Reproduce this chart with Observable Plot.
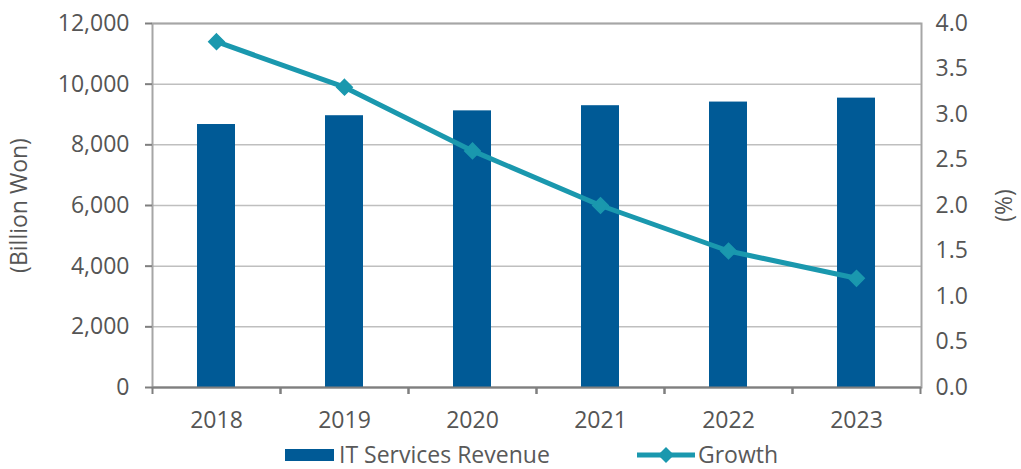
<!DOCTYPE html>
<html>
<head>
<meta charset="utf-8">
<script src="https://cdn.jsdelivr.net/npm/d3@7"></script>
<script src="https://cdn.jsdelivr.net/npm/@observablehq/plot@0.6"></script>
<style>
  html, body { margin: 0; padding: 0; background: #fff; overflow: hidden; }
  body { width: 1021px; height: 469px; font-family: "Open Sans", sans-serif; color: #595959; }
  #legend { position: relative; height: 29px; width: 1021px; }
  .item { position: absolute; top: 3px; display: flex; align-items: center; font-size: 23px; line-height: 23px; white-space: nowrap; }
</style>
</head>
<body>
<div id="chart"></div>
<div id="legend"></div>
<script>
const years = ["2018", "2019", "2020", "2021", "2022", "2023"];
const revenue = [8670, 8960, 9120, 9290, 9410, 9540];
const growth = [3.8, 3.3, 2.6, 2.0, 1.5, 1.2];
const leftTicks = [0, 2000, 4000, 6000, 8000, 10000, 12000];
const rightTicks = [0, 0.5, 1.0, 1.5, 2.0, 2.5, 3.0, 3.5, 4.0];
const seriesNames = ["IT Services Revenue", "Growth"];

const barColor = "#005a96";
const lineColor = "#1a98ae";
const ratio = 12000 / 4.0; // secondary axis mapping

const data = years.map((y, i) => ({year: y, revenue: revenue[i], growth: growth[i], g: growth[i] * ratio}));

const chart = Plot.plot({
  width: 1021,
  height: 440,
  marginLeft: 152,
  marginRight: 100,
  marginTop: 23,
  marginBottom: 53,
  style: {fontFamily: "Open Sans, sans-serif", fontSize: "23px", color: "#555555", background: "#fff"},
  x: {domain: years, paddingInner: 0.70, paddingOuter: 0.35, label: null},
  y: {domain: [0, 12000], label: null},
  marks: [
    Plot.gridY(leftTicks, {stroke: "#bfbfbf", strokeOpacity: 1, strokeWidth: 1.5}),
    Plot.frame({stroke: "#a6a6a6", strokeWidth: 2}),
    Plot.barY(data, {x: "year", y: "revenue", fill: barColor}),
    Plot.ruleY([0], {stroke: "#7f7f7f", strokeWidth: 2}),
    Plot.axisY(leftTicks, {anchor: "left", tickSize: 7, tickPadding: 16, stroke: "#7f7f7f", strokeWidth: 2,
      tickFormat: d3.format(","), label: "(Billion Won)", labelAnchor: "center", labelArrow: false, labelOffset: 142}),
    Plot.axisY(rightTicks.map(d => d * ratio), {anchor: "right", tickSize: 0, tickPadding: 14,
      tickFormat: d => (d / ratio).toFixed(1), label: "(%)", labelAnchor: "center", labelArrow: false, labelOffset: 90}),
    Plot.axisX({anchor: "bottom", tickSize: 0, tickPadding: 24, label: null}),
    Plot.axisX({anchor: "bottom", tickSize: 7, tickFormat: () => "", dx: -64, stroke: "#7f7f7f", strokeWidth: 2, label: null}),
    Plot.axisX({anchor: "bottom", tickSize: 7, tickFormat: () => "", dx: 64, stroke: "#7f7f7f", strokeWidth: 2, label: null}),
    Plot.line(data, {x: "year", y: "g", stroke: lineColor, strokeWidth: 5}),
    Plot.dot(data, {x: "year", y: "g", symbol: "diamond2", r: 7, fill: lineColor, stroke: lineColor})
  ]
});
document.getElementById("chart").appendChild(chart);

const legend = document.getElementById("legend");
const item1 = document.createElement("div");
item1.className = "item";
item1.style.left = "285px";
item1.innerHTML = `<svg width="49" height="14" style="margin-right:5px"><rect x="0" y="1" width="49" height="12" fill="${barColor}"/></svg><span>${seriesNames[0]}</span>`;
const item2 = document.createElement("div");
item2.className = "item";
item2.style.left = "637px";
item2.innerHTML = `<svg width="60" height="18" style="margin-right:1px"><line x1="0" y1="9" x2="58" y2="9" stroke="${lineColor}" stroke-width="5"/><path d="M29,1 L37,9 L29,17 L21,9 Z" fill="${lineColor}"/></svg><span>${seriesNames[1]}</span>`;
legend.appendChild(item1);
legend.appendChild(item2);
</script>
</body>
</html>
